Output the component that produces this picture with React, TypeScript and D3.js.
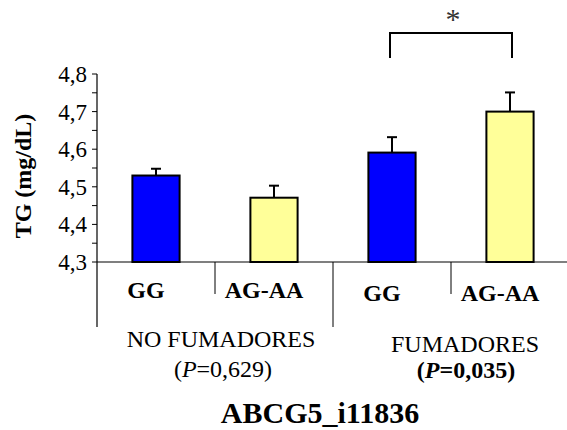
import React from "react";
import * as d3 from "d3";

const genotypes = ["GG", "AG-AA", "GG", "AG-AA"];
const means = [4.53, 4.471, 4.591, 4.7];
const errors = [0.018, 0.032, 0.041, 0.051];
const barColors = ["#0000ff", "#ffff99", "#0000ff", "#ffff99"];
const yTicks = [4.3, 4.4, 4.5, 4.6, 4.7, 4.8];
const minorTicks = [4.35, 4.45, 4.55, 4.65, 4.75];

const App = () => {
  const width = 567;
  const height = 430;
  const axisX = 97;
  const axisBottom = 262;

  const yScale = d3.scaleLinear().domain([4.3, 4.8]).range([axisBottom, 74]);
  const xScale = d3
    .scaleBand<number>()
    .domain(d3.range(genotypes.length))
    .range([axisX, axisX + 118 * 4])
    .padding(0);
  const barW = xScale.bandwidth() * 0.4;
  const fmt = (v: number) => v.toFixed(1).replace(".", ",");
  const serif = "'Liberation Serif', 'Times New Roman', serif";

  const cx = (i: number) => xScale(i)! + xScale.bandwidth() / 2;
  const dividers = [1, 2, 3].map((i) => xScale(i)!);

  return (
    <svg width={width} height={height} style={{ position: "absolute", left: 0, top: 0 }} fontFamily={serif}>
      <rect width={width} height={height} fill="white" />

      {/* bars */}
      {means.map((m, i) => (
        <g key={i}>
          <line x1={cx(i)} x2={cx(i)} y1={yScale(m)} y2={yScale(m + errors[i])} stroke="black" strokeWidth={2} />
          <line x1={cx(i) - 5} x2={cx(i) + 5} y1={yScale(m + errors[i])} y2={yScale(m + errors[i])} stroke="black" strokeWidth={2} />
          <rect
            x={cx(i) - barW / 2}
            y={yScale(m)}
            width={barW}
            height={axisBottom - yScale(m)}
            fill={barColors[i]}
            stroke="black"
            strokeWidth={2}
          />
        </g>
      ))}

      {/* y axis */}
      <line x1={axisX} x2={axisX} y1={yScale(4.8)} y2={327} stroke="black" strokeWidth={1.2} />
      {yTicks.concat(minorTicks).map((t) => (
        <line key={t} x1={axisX - 5} x2={axisX} y1={yScale(t)} y2={yScale(t)} stroke="black" strokeWidth={1} />
      ))}
      {yTicks.map((t) => (
        <text key={t} x={87} y={yScale(t)} dy="0.35em" textAnchor="end" fontSize={23}>
          {fmt(t)}
        </text>
      ))}
      <text
        transform={`translate(31,${(yScale(4.3) + yScale(4.8)) / 2 + 8}) rotate(-90)`}
        textAnchor="middle"
        fontSize={24}
        fontWeight="bold"
      >
        TG (mg/dL)
      </text>

      {/* x axis */}
      <line x1={axisX} x2={width} y1={axisBottom} y2={axisBottom} stroke="black" strokeWidth={1.2} />
      {dividers.map((x, i) => (
        <line key={i} x1={x} x2={x} y1={axisBottom} y2={i === 1 ? 327 : 294} stroke="black" strokeWidth={1} />
      ))}
      {genotypes.map((g, i) => (
        <text key={i} x={cx(i) - 10} y={i < 2 ? 298 : 301} textAnchor="middle" fontSize={24} fontWeight="bold">
          {g}
        </text>
      ))}

      {/* group labels */}
      <text x={221} y={347} textAnchor="middle" fontSize={24}>NO FUMADORES</text>
      <text x={223} y={377} textAnchor="middle" fontSize={24}>
        (<tspan fontStyle="italic">P</tspan>=0,629)
      </text>
      <text x={465} y={352} textAnchor="middle" fontSize={24}>FUMADORES</text>
      <text x={466} y={378} textAnchor="middle" fontSize={24} fontWeight="bold">
        (<tspan fontStyle="italic">P</tspan>=0,035)
      </text>
      <text x={320} y={423} textAnchor="middle" fontSize={30} fontWeight="bold">ABCG5_i11836</text>

      {/* significance bracket */}
      <path
        d={`M${cx(2) - 2},58 V33 H${cx(3) + 2} V58`}
        fill="none"
        stroke="black"
        strokeWidth={2}
      />
      <text x={(cx(2) + cx(3)) / 2 + 2} y={29} textAnchor="middle" fontSize={30} fill="#333">*</text>
    </svg>
  );
};

export default App;
